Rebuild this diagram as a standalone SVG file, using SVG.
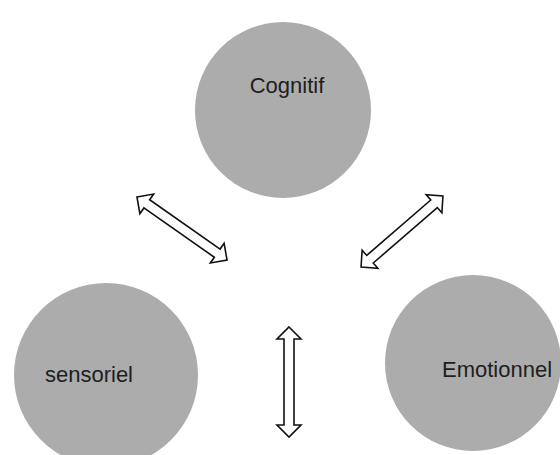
<svg xmlns="http://www.w3.org/2000/svg" width="560" height="455" viewBox="0 0 560 455">
<style>
.node circle{fill:#acacac;}
.node text{font-family:"Liberation Sans",Arial,sans-serif;font-size:22px;fill:#1e1e1e;text-anchor:middle;}
.arr{fill:#ffffff;stroke:#111;stroke-width:1.6;stroke-linejoin:miter;}
</style>
<defs>
<polygon id="dbl" points="-55,0 -43,-12 -43,-5 43,-5 43,-12 55,0 43,12 43,5 -43,5 -43,12"/>
</defs>
<rect width="560" height="455" fill="#ffffff"/>
<g id="cognitif" class="node">
<circle cx="283" cy="110" r="88"/>
<text x="287" y="93">Cognitif</text>
</g>
<g id="sensoriel" class="node">
<circle cx="106" cy="375" r="92"/>
<text x="89" y="382">sensoriel</text>
</g>
<g id="emotionnel" class="node">
<circle cx="473" cy="363" r="88"/>
<text x="497" y="377">Emotionnel</text>
</g>
<g id="connectors">
<use href="#dbl" class="arr" transform="translate(182,228.5) rotate(35)"/>
<use href="#dbl" class="arr" transform="translate(402,231.5) rotate(-40.9) scale(0.985,1)"/>
<use href="#dbl" class="arr" transform="translate(289,382) rotate(90)"/>
</g>
</svg>
